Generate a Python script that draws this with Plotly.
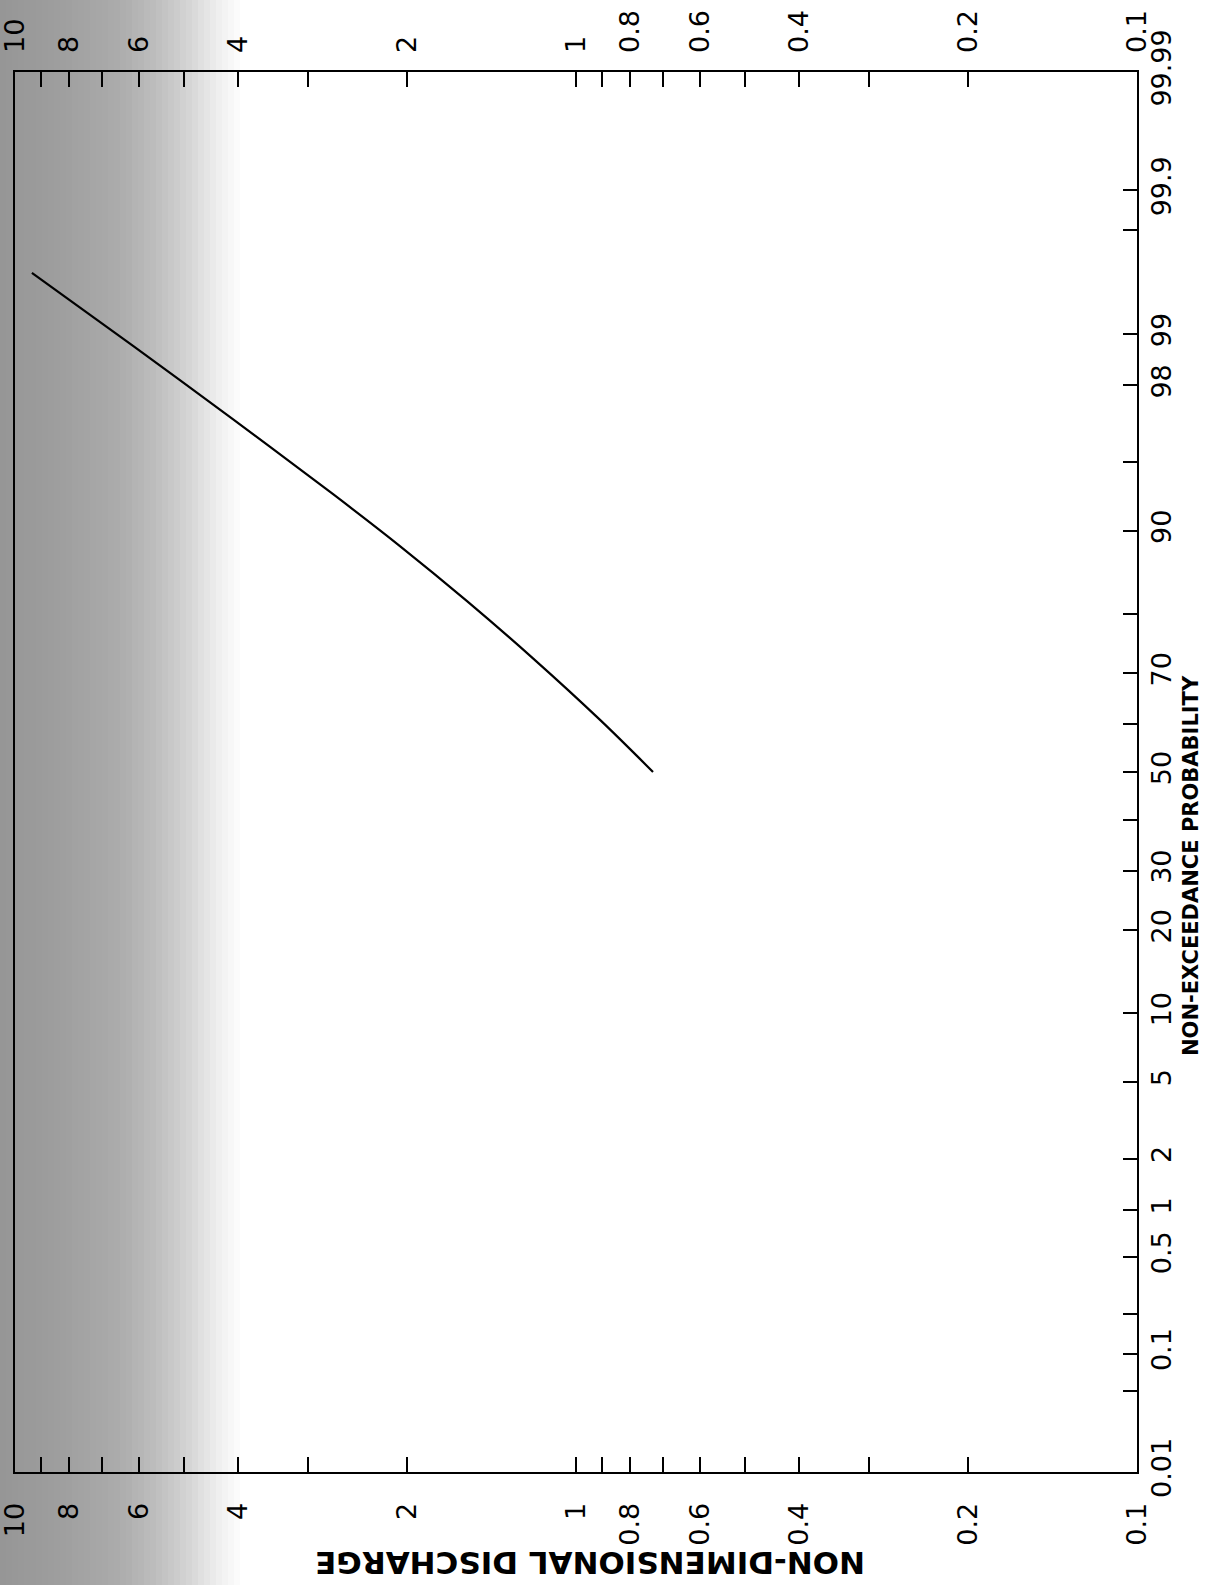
import plotly.graph_objects as go
from statistics import NormalDist

# ---------------- data ----------------
# curve: non-exceedance probability (%) vs non-dimensional discharge
prob_pct = [50.0, 60.9, 72.7, 81.8, 88.5, 93.0, 96.96, 98.82, 99.60]
discharge = [0.729, 0.906, 1.193, 1.564, 2.06, 2.71, 4.09, 6.16, 9.33]

# probability axis ticks (normal probability scale)
prob_tick_vals = [0.01, 0.05, 0.1, 0.2, 0.5, 1, 2, 5, 10, 20, 30, 40, 50, 60, 70,
                  80, 90, 95, 98, 99, 99.8, 99.9, 99.99]
prob_tick_text = ["0.01", "", "0.1", "", "0.5", "1", "2", "5", "10", "20", "30", "",
                  "50", "", "70", "", "90", "", "98", "99", "", "99.9", "99.99"]

# discharge axis ticks (log scale)
q_tick_vals = [10, 9, 8, 7, 6, 5, 4, 3, 2, 1, 0.9, 0.8, 0.7, 0.6, 0.5, 0.4, 0.3, 0.2, 0.1]
q_tick_text = ["10", "", "8", "", "6", "", "4", "", "2", "1", "", "0.8", "", "0.6", "",
               "0.4", "", "0.2", "0.1"]

x_title = "NON-DIMENSIONAL DISCHARGE"
y_title = "NON-EXCEEDANCE PROBABILITY"

# ---------------- helpers ----------------
nd = NormalDist()
def zq(p):
    return nd.inv_cdf(p / 100.0)

z_curve = [zq(p) for p in prob_pct]
z_ticks = [zq(p) for p in prob_tick_vals]

W, H = 1225, 1585
L, R, T, B = 15, 88, 72, 113
PW, PH = W - L - R, H - T - B

def px2paper_x(px):
    return (px - L) / PW

def py2paper_y(py):
    return (H - B - py) / PH

tick_font = dict(family="DejaVu Sans", size=27, color="black")

fig = go.Figure()
fig.add_trace(go.Scatter(
    x=discharge, y=z_curve, mode="lines",
    line=dict(color="black", width=2.2, shape="spline", smoothing=1.0),
    showlegend=False, hoverinfo="skip"))
# invisible copy to carry the top discharge axis
fig.add_trace(go.Scatter(
    x=discharge, y=z_curve, mode="lines", xaxis="x2",
    line=dict(color="rgba(0,0,0,0)", width=0),
    showlegend=False, hoverinfo="skip"))

common_x = dict(
    type="log", range=[1.0, -1.0], tickmode="array",
    tickvals=q_tick_vals, ticktext=q_tick_text,
    ticks="inside", ticklen=15, tickwidth=2, tickcolor="black",
    tickangle=-90, tickfont=tick_font, showgrid=False, zeroline=False,
    ticklabelstandoff=18, ticklabeloverflow="allow", automargin=False,
)

# scan shadow on the left side (gray gradient strips)
shapes = []
stops = [(0, 150), (60, 158), (120, 172), (160, 192), (190, 214), (215, 236), (242, 255)]
def shade(px):
    for (a, ca), (b, cb) in zip(stops[:-1], stops[1:]):
        if a <= px <= b:
            return ca + (cb - ca) * (px - a) / (b - a)
    return 255
step = 6
for px in range(0, 242, step):
    c = int(round(shade(px + step / 2)))
    shapes.append(dict(
        type="rect", xref="paper", yref="paper",
        x0=px2paper_x(px), x1=px2paper_x(px + step + 0.5),
        y0=py2paper_y(H + 10), y1=py2paper_y(-10),
        fillcolor=f"rgb({c},{c},{c})", line=dict(width=0), layer="below"))

fig.update_layout(
    width=W, height=H,
    margin=dict(l=L, r=R, t=T, b=B, pad=0, autoexpand=False),
    paper_bgcolor="white", plot_bgcolor="rgba(0,0,0,0)",
    showlegend=False,
    shapes=shapes,
    xaxis=dict(**common_x, side="bottom", showline=True, linecolor="black",
               linewidth=2, mirror=True),
    xaxis2=dict(**common_x, side="top", overlaying="x", showline=False),
    yaxis=dict(
        range=[zq(0.01), zq(99.99)], tickmode="array",
        tickvals=z_ticks, ticktext=prob_tick_text,
        side="right", ticks="inside", ticklen=14, tickwidth=2, tickcolor="black",
        tickangle=-90, tickfont=tick_font, showgrid=False, zeroline=False,
        showline=True, linecolor="black", linewidth=2, mirror=True,
        ticklabelstandoff=0, ticklabeloverflow="allow", automargin=False,
    ),
    annotations=[
        dict(text="<b>" + y_title + "</b>", xref="paper", yref="paper",
             x=px2paper_x(1191), y=py2paper_y(866), textangle=-90,
             showarrow=False, font=dict(family="DejaVu Sans", size=21, color="black"),
             xanchor="center", yanchor="middle"),
        dict(text="<b>" + x_title + "</b>", xref="paper", yref="paper",
             x=px2paper_x(590), y=py2paper_y(1563), textangle=180,
             showarrow=False, font=dict(family="DejaVu Sans", size=31, color="black"),
             xanchor="center", yanchor="middle"),
    ],
)

fig.write_html("out.html")
